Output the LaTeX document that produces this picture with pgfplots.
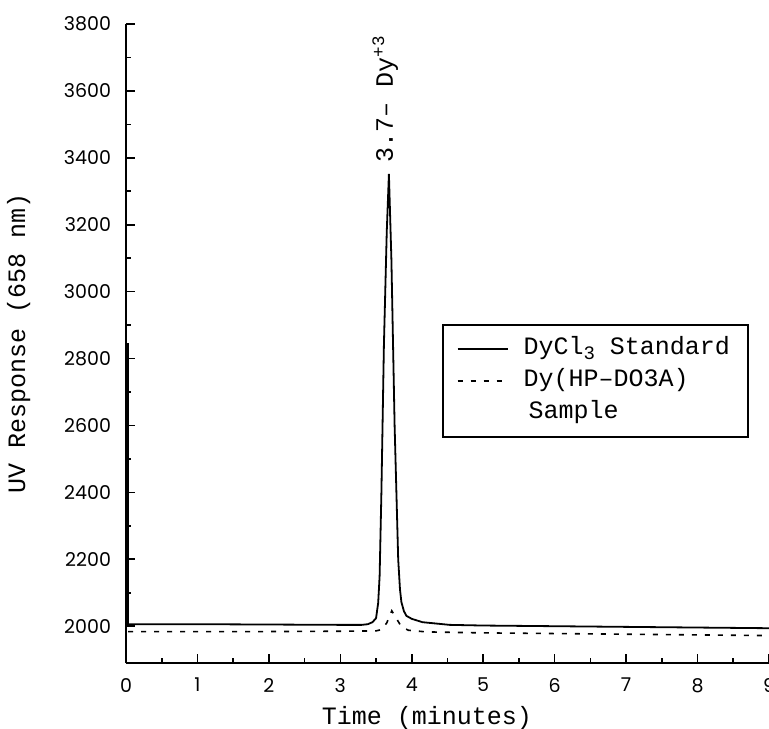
\documentclass[border=0pt]{standalone}
\usepackage{fontspec}
\setmainfont{Liberation Mono}
\newfontfamily\tickfont{Poppins}
\usepackage{pgfplots}
\pgfplotsset{compat=1.18}
\begin{document}
\begin{tikzpicture}
\begin{axis}[
 name=ax, at={(0,0)}, anchor=south west,
 width=321.5pt, height=319.5pt, scale only axis,
 xmin=0, xmax=9, ymin=1890, ymax=3800,
 axis x line*=bottom, axis y line*=left,
 axis line style={line width=1pt,-},
 xtick={0,...,9}, minor xtick={0.5,1.5,...,8.5},
 ytick={2000,2200,...,3800}, minor ytick={2100,2300,...,3700},
 tick align=inside,
 major tick length=4.5pt, minor tick length=2.5pt,
 every tick/.style={black, line width=0.8pt},
 tick label style={font=\tickfont\fontsize{9.5}{10}\selectfont},
 /pgf/number format/assume math mode=true,
 /pgf/number format/1000 sep={},
 xticklabel style={yshift=-4pt},
 yticklabel style={xshift=-4pt},
 xlabel={Time (minutes)},
 ylabel={UV Response (658 nm)},
 label style={font=\fontsize{12.5}{15}\selectfont},
 xlabel style={at={(axis description cs:0.468,-0.086)}, anchor=center},
 ylabel style={at={(axis description cs:-0.138,0.5)}, anchor=south},
 legend cell align=left,
 legend style={at={(rel axis cs:0.4914,0.5305)}, anchor=north west, draw=black, line width=0.8pt,
   font=\fontsize{12.5}{15.5}\selectfont, inner xsep=7pt, inner ysep=4pt,
   nodes={text height=9pt, text depth=3pt, inner ysep=2pt}},
 legend image code/.code={\draw[#1, line width=0.8pt] (0cm,0cm) -- (25pt,0cm); \path[draw=none] (0pt,0pt) -- (31pt,0pt);},
]
\addplot[black, line width=0.9pt] coordinates {
(0.03,2006) (1,2006) (2,2005) (3,2004) (3.3,2004) (3.385,2006) (3.45,2012) (3.5,2024)
(3.53,2070) (3.55,2150) (3.575,2400) (3.61,2840) (3.65,3180) (3.68,3352) (3.715,3095) (3.76,2598)
(3.81,2200) (3.835,2110) (3.855,2072) (3.89,2045) (3.925,2031) (4.0,2022) (4.15,2012) (4.53,2004) (5,2002)
(6,2000) (7,1998) (8,1996) (9,1994)};
\addlegendentry{DyCl\raisebox{-0.35ex}{\fontsize{9.5}{9.5}\selectfont 3} Standard}
\addplot[black, line width=0.8pt, dash pattern=on 2.5pt off 4pt] coordinates {
(0.03,1984) (1,1984) (2,1984) (3,1985) (3.5,1986) (3.58,1990) (3.65,2010) (3.72,2046)
(3.78,2025) (3.85,2000) (3.95,1988) (4.2,1983) (5,1980) (6,1978) (7,1976) (8,1974) (9,1972)};
\addlegendentry{Dy(HP\textendash DO3A)}
\addlegendimage{empty legend}
\addlegendentry{\hspace{0.2em}Sample}
\addplot[black, line width=2pt, forget plot] coordinates {(0.02,2000) (0.02,2845)};
\node[rotate=90, anchor=west, inner sep=0pt, font=\fontsize{12.5}{15}\selectfont] at (axis cs:3.63,3385) {3.7\textendash\ Dy\textsuperscript{+3}};
\end{axis}
\pgfresetboundingbox
\useasboundingbox (-63pt,-32.5pt) rectangle (321.5pt,331.5pt);
\end{tikzpicture}
\end{document}
